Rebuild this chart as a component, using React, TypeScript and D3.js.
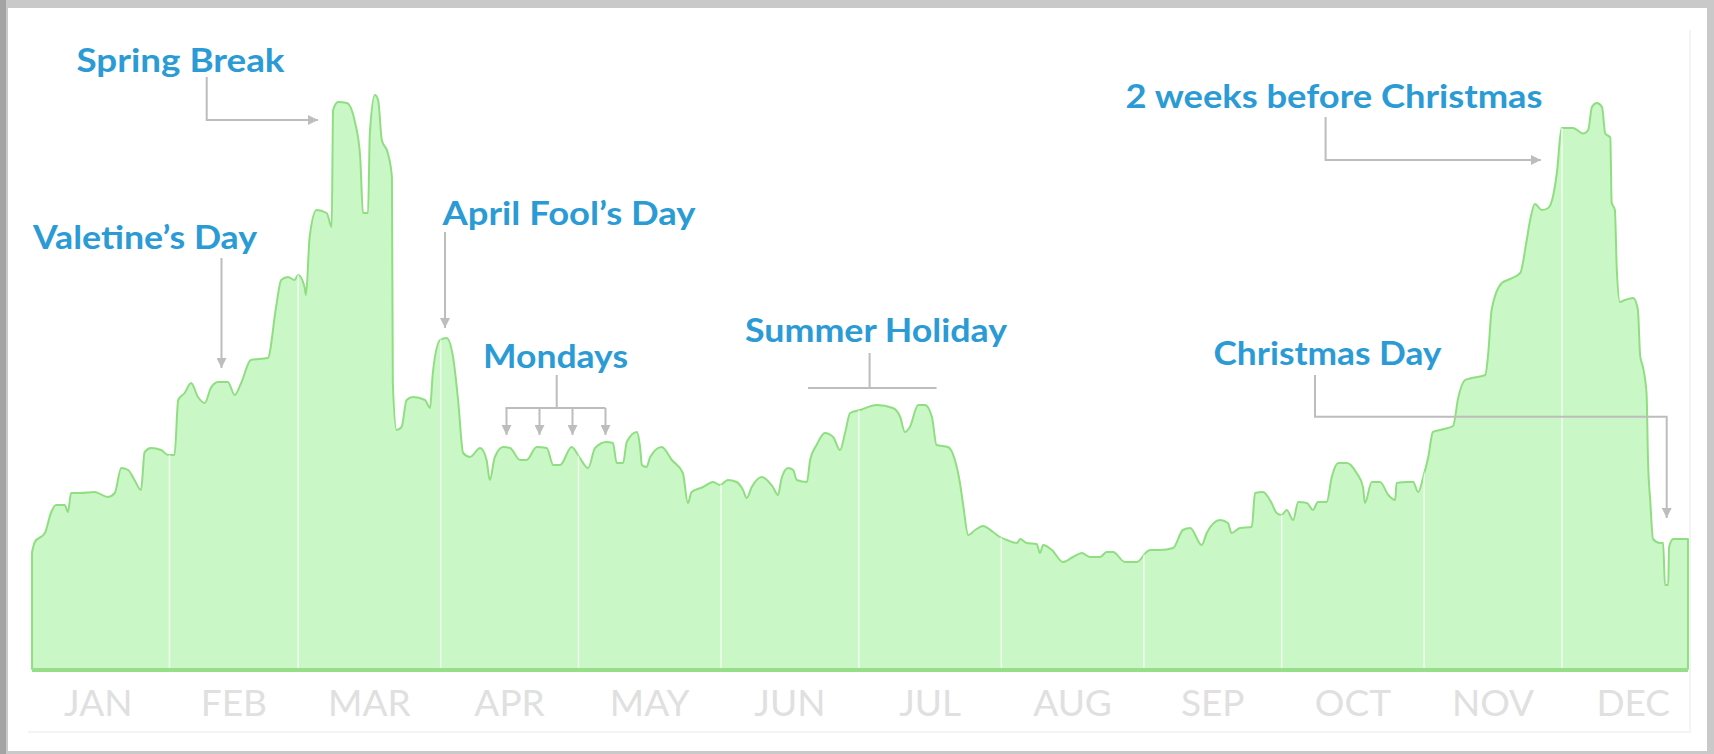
import React from 'react';
import * as d3 from 'd3';

// Daily search index, as [day of year, index] pairs
const janToMar: [number, number][] = [
  [1.1, 23.4], [1.7, 25.4], [3.9, 27.2], [5.2, 31.2], [6.3, 32.8], [8.2, 32.8], [8.9, 31.4], [9.6, 35.2],
  [11.7, 35.2], [14.7, 35.4], [17.6, 34.4], [19.1, 35.2], [20.5, 40.2], [22.0, 39.8], [23.4, 37.8], [24.8, 35.8],
  [25.6, 43.4], [27.0, 44.2], [29.2, 43.8], [30.7, 42.8], [32.1, 42.8], [32.9, 53.8], [34.3, 55.2], [35.7, 57.2],
  [37.2, 54.4], [38.7, 53.2], [40.0, 56.2], [41.6, 57.4], [43.7, 57.4], [45.2, 54.8], [46.6, 57.2], [48.7, 61.8],
  [52.4, 62.2], [54.2, 72.4], [55.3, 77.8], [56.8, 78.4], [58.2, 77.8], [59.0, 78.8], [60.4, 76.4], [60.7, 74.8],
  [61.5, 86.4], [63.0, 91.8], [65.2, 91.2], [66.3, 88.4], [66.6, 111.8], [67.7, 113.4], [69.6, 113.2], [71.4, 109.2],
  [72.5, 102.4], [73.1, 91.2], [74.2, 91.2], [74.6, 107.2], [75.7, 114.8], [76.4, 113.8], [77.2, 105.8], [78.5, 103.2],
  [79.4, 98.4], [79.6, 57.2], [80.4, 47.8], [81.5, 48.4], [82.6, 53.8], [84.0, 54.4], [86.6, 53.8], [87.7, 52.2],
  [88.3, 59.2], [89.9, 65.8],
];

const aprToJun: [number, number][] = [
  [91.3, 66.2], [92.7, 62.4], [93.8, 53.8], [94.9, 43.2], [96.4, 42.4], [98.6, 44.2], [100.0, 41.8], [100.7, 37.8],
  [101.8, 42.4], [103.6, 44.4], [105.1, 44.2], [107.3, 41.8], [108.7, 41.8], [110.9, 44.4], [113.1, 44.2], [114.5, 40.8],
  [116.0, 40.8], [118.5, 44.4], [120.3, 42.2], [122.1, 40.2], [123.6, 44.2], [126.1, 45.4], [127.5, 45.2], [128.3, 41.2],
  [129.7, 41.2], [130.5, 45.4], [132.7, 47.4], [133.4, 44.4], [133.8, 40.8], [134.8, 40.4], [135.6, 42.4], [138.1, 44.4],
  [140.3, 41.8], [142.7, 39.2], [143.8, 33.2], [144.6, 35.4], [147.1, 36.4], [149.3, 37.4], [150.8, 36.8], [152.5, 37.8],
  [154.4, 37.4], [155.8, 35.8], [156.6, 34.2], [157.7, 36.4], [159.9, 38.4], [162.3, 36.4], [163.4, 34.8], [164.2, 38.2],
  [165.6, 40.2], [166.7, 39.8], [167.5, 37.8], [169.7, 37.4], [170.4, 41.8], [171.8, 44.8], [173.6, 47.2], [175.4, 46.4],
  [176.9, 43.8], [178.0, 47.2], [179.1, 51.2],
];

const julToSep: [number, number][] = [
  [181.3, 51.8], [184.9, 52.8], [188.4, 52.2], [190.0, 50.4], [191.0, 47.4], [192.1, 48.4], [193.9, 52.8], [195.4, 52.8],
  [196.9, 50.4], [197.9, 44.8], [200.4, 44.4], [201.9, 41.8], [203.0, 37.2], [203.7, 32.8], [204.8, 26.8], [206.3, 27.8],
  [208.0, 28.6], [210.2, 27.4], [211.7, 26.4], [213.2, 25.8], [215.4, 25.2], [216.1, 26.0], [217.5, 25.2], [219.7, 25.0],
  [220.4, 23.2], [221.1, 24.8], [223.0, 23.8], [225.4, 21.4], [227.6, 22.4], [229.5, 23.2], [231.3, 22.4], [233.5, 22.4],
  [234.9, 23.4], [236.3, 23.4], [238.9, 21.4], [241.5, 21.4], [243.6, 23.4], [244.4, 23.8], [246.5, 23.8], [249.4, 24.2],
  [251.5, 27.8], [253.1, 28.2], [255.6, 24.8], [256.7, 27.2], [259.6, 29.8], [261.3, 29.2], [262.1, 27.2], [263.9, 28.2],
  [266.5, 28.4], [267.2, 35.2], [268.9, 35.4], [270.8, 33.2], [271.9, 31.2], [273.0, 30.8],
];

const octToDec: [number, number][] = [
  [274.1, 31.8], [275.5, 29.8], [276.6, 33.4], [278.5, 33.2], [279.8, 31.8], [280.9, 33.4], [282.8, 33.4], [283.9, 38.4],
  [285.3, 41.2], [287.2, 41.2], [289.3, 39.2], [290.7, 36.4], [291.1, 33.2], [292.6, 37.4], [294.4, 37.4], [296.2, 34.8],
  [297.7, 33.8], [298.0, 37.2], [300.2, 37.4], [301.6, 37.4], [302.7, 35.4], [303.8, 38.4], [304.9, 42.4], [305.9, 47.4],
  [307.5, 47.8], [310.3, 48.6], [311.4, 54.2], [312.9, 57.8], [314.0, 58.1], [317.3, 58.8], [317.9, 62.7], [318.7, 71.9],
  [320.9, 77.2], [322.7, 78.0], [324.9, 79.2], [326.3, 85.7], [327.0, 89.5], [328.1, 93.0], [329.6, 91.8], [331.0, 92.2],
  [332.1, 94.8], [332.9, 99.4], [333.9, 108.2], [336.4, 108.2], [338.6, 107.1], [339.7, 107.8], [340.5, 112.4], [341.6, 113.2],
  [342.7, 112.4], [343.4, 107.1], [344.5, 106.3], [344.8, 93.3], [345.5, 91.8], [345.9, 80.3], [346.6, 73.4], [347.7, 73.8],
  [349.5, 74.2], [350.5, 71.9], [351.0, 62.7], [351.6, 60.4], [352.4, 55.0], [352.7, 42.0], [353.2, 33.6], [353.8, 26.0],
  [355.3, 25.2], [356.0, 25.2], [356.4, 16.8], [357.1, 16.8], [357.3, 24.4], [358.2, 26.0], [361.4, 26.0],
];

const monthLabels = ['JAN', 'FEB', 'MAR', 'APR', 'MAY', 'JUN', 'JUL', 'AUG', 'SEP', 'OCT', 'NOV', 'DEC'];

const eventLabels = [
  'Spring Break',
  'Valetine\u2019s Day',
  'April Fool\u2019s Day',
  'Mondays',
  'Summer Holiday',
  '2 weeks before Christmas',
  'Christmas Day',
];

const WIDTH = 1714;
const HEIGHT = 754;

const App = () => {
  const series = [...janToMar, ...aprToJun, ...julToSep, ...octToDec];

  // day of year -> horizontal position, index -> vertical position
  const xScale = d3.scaleLinear().domain([0, 365]).range([27, 1704.5]);
  const yScale = d3.scaleLinear().domain([0, 120]).range([669, 69]);

  const area = d3
    .area<[number, number]>()
    .x((d) => xScale(d[0]))
    .y0(yScale(0))
    .y1((d) => yScale(d[1]))
    .curve(d3.curveMonotoneX);
  const areaPath = area(series) || '';

  // month boundaries for the white separators and the labels
  const yearStart = new Date(2013, 0, 1);
  const monthStarts = d3.timeMonth.range(yearStart, new Date(2014, 0, 2));
  const dayOf = (d: Date) => d3.timeDay.count(yearStart, d);
  const monthMid = monthStarts.slice(0, 12).map((d, i) => (dayOf(d) + dayOf(monthStarts[i + 1])) / 2);

  const first = series[0][0];
  const last = series[series.length - 1][0];

  // label layout: [left x, baseline y, width]
  const labelPos = [
    [76.5, 72, 208],
    [33, 249, 224],
    [442.5, 225, 253],
    [483, 368, 145],
    [745, 342, 262],
    [1125.5, 108, 417],
    [1213.5, 365, 228],
  ];

  const grey = '#bdbdbd';
  const connectors = [
    'M206.7,77 V120 H318',
    'M221.5,258 V368',
    'M445,232 V328',
    'M556.7,375 V408 M505.5,408 H605.5',
    'M869.6,353 V388 M808,388 H936.5',
    'M1325.6,117 V160 H1541',
    'M1315,375 V416.7 H1666.7 V518',
  ];
  const mondayArrows = [506.5, 539.5, 572.5, 605.5];

  return (
    <svg
      width={WIDTH}
      height={HEIGHT}
      style={{ position: 'absolute', left: 0, top: 0, display: 'block' }}
    >
      <defs>
        <clipPath id="areaClip">
          <path d={areaPath} />
        </clipPath>
        <marker
          id="arrow"
          viewBox="0 0 10 10"
          refX={10}
          refY={5}
          markerWidth={10}
          markerHeight={10}
          markerUnits="userSpaceOnUse"
          orient="auto"
        >
          <path d="M0,0 L10,5 L0,10 z" fill={grey} />
        </marker>
      </defs>

      {/* Card frame */}
      <rect x={0} y={0} width={WIDTH} height={HEIGHT} fill="#c9c9c9" />
      <rect x={0} y={0} width={6} height={HEIGHT} fill="#a4a4a4" />
      <rect x={8} y={8} width={1699} height={743} fill="#ffffff" />
      <path d="M1690,30 V732 H28" fill="none" stroke="#f1f1f1" strokeWidth={1.5} />

      {/* Area */}
      <path d={areaPath} fill="#c9f7c5" stroke="#90de82" strokeWidth={2} strokeLinejoin="round" />
      <g clipPath="url(#areaClip)">
        {monthStarts.slice(1, 12).map((d) => (
          <line
            key={`sep-${dayOf(d)}`}
            x1={xScale(dayOf(d))}
            x2={xScale(dayOf(d))}
            y1={yScale(0)}
            y2={40}
            stroke="#ffffff"
            strokeOpacity={0.75}
            strokeWidth={1.5}
          />
        ))}
      </g>
      <line
        x1={xScale(first)}
        x2={xScale(last)}
        y1={yScale(0) + 1}
        y2={yScale(0) + 1}
        stroke="#96df88"
        strokeWidth={4}
      />

      {/* Month labels */}
      <g fontFamily="Lato, sans-serif" fontSize={37} fill="#e0e0e0" textAnchor="middle">
        {monthLabels.map((m, i) => (
          <text key={m} x={xScale(monthMid[i])} y={716}>
            {m}
          </text>
        ))}
      </g>

      {/* Connectors */}
      <g fill="none" stroke={grey} strokeWidth={2}>
        {connectors.map((d, i) => (
          <path
            key={`c-${i}`}
            d={d}
            markerEnd={i === 3 || i === 4 ? undefined : 'url(#arrow)'}
          />
        ))}
        {mondayArrows.map((ax) => (
          <path key={`m-${ax}`} d={`M${ax},408 V435`} markerEnd="url(#arrow)" />
        ))}
      </g>

      {/* Event labels */}
      <g fontFamily="Lato, sans-serif" fontWeight={700} fontSize={32} fill="#2b9bd6">
        {eventLabels.map((t, i) => (
          <text
            key={t}
            x={labelPos[i][0]}
            y={labelPos[i][1]}
            textLength={labelPos[i][2]}
            lengthAdjust="spacingAndGlyphs"
          >
            {t}
          </text>
        ))}
      </g>
    </svg>
  );
};

export default App;
